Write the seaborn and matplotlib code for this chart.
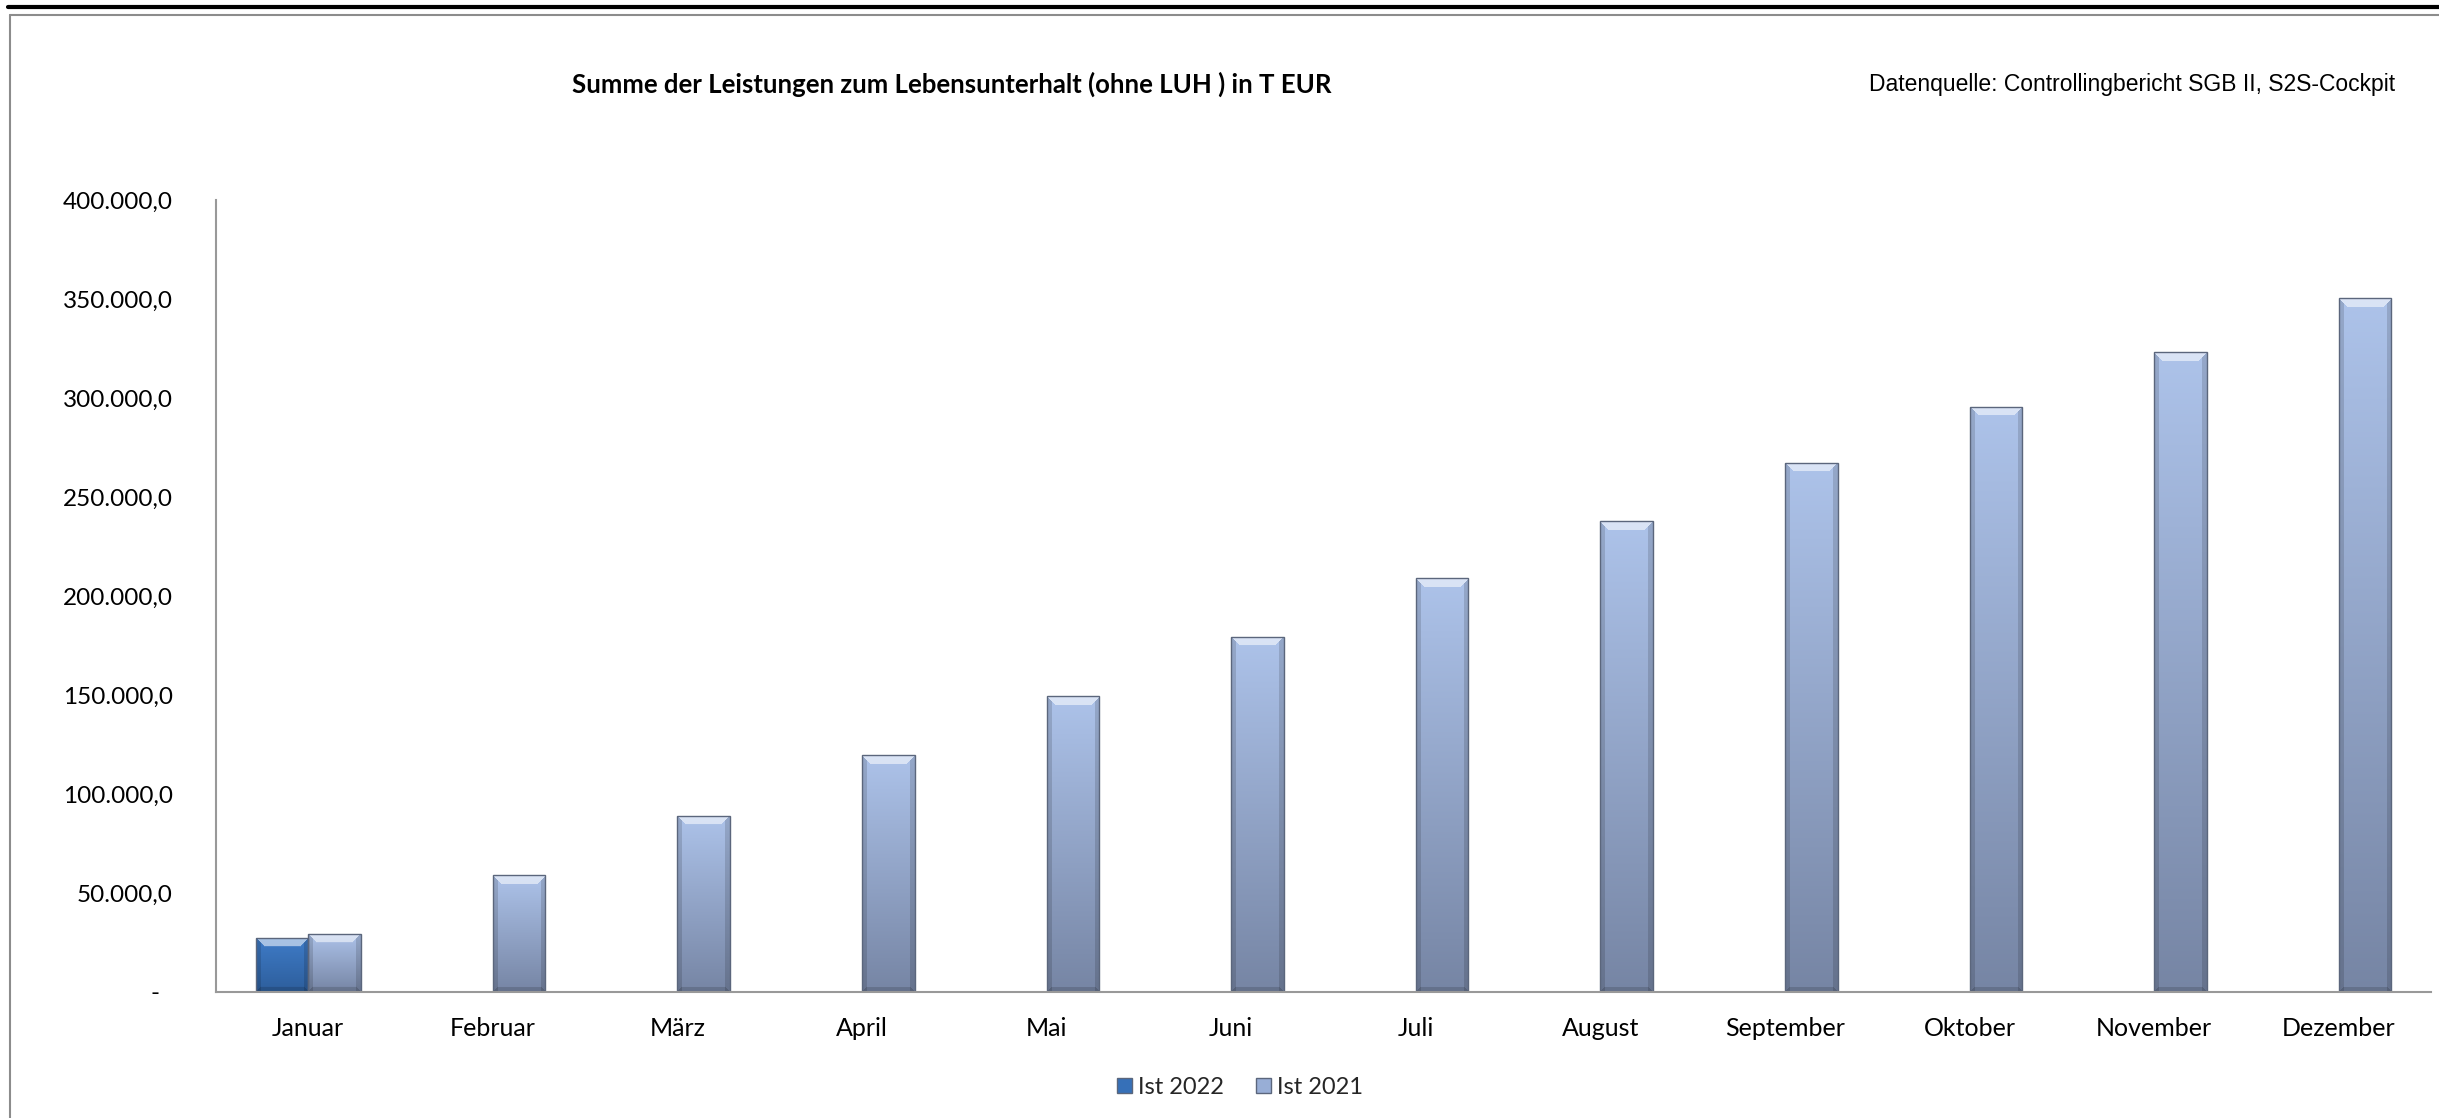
import numpy as np
import pandas as pd
import matplotlib
matplotlib.use("Agg")
import matplotlib.pyplot as plt
import seaborn as sns
from matplotlib.lines import Line2D
from matplotlib.colors import to_rgb, to_hex

# ---------------- data ----------------
months = ["Januar", "Februar", "März", "April", "Mai", "Juni", "Juli",
          "August", "September", "Oktober", "November", "Dezember"]
ist_2022 = [27300, np.nan, np.nan, np.nan, np.nan, np.nan, np.nan,
            np.nan, np.nan, np.nan, np.nan, np.nan]
ist_2021 = [29400, 58900, 88900, 119500, 149300, 179300, 209000,
            237800, 267300, 295600, 323000, 350500]
series_names = ["Ist 2022", "Ist 2021"]
y_ticks = [0, 50000, 100000, 150000, 200000, 250000, 300000, 350000, 400000]
y_tick_labels = ["-  ", "50.000,0", "100.000,0", "150.000,0", "200.000,0",
                 "250.000,0", "300.000,0", "350.000,0", "400.000,0"]
title = "Summe der Leistungen zum Lebensunterhalt (ohne LUH ) in T EUR"
source = "Datenquelle: Controllingbericht SGB II, S2S-Cockpit"

df = pd.DataFrame({
    "Monat": months * 2,
    "Reihe": [series_names[0]] * 12 + [series_names[1]] * 12,
    "Wert": list(ist_2022) + list(ist_2021),
})

# ---------------- style ----------------
sns.set_theme(style="white")
plt.rcParams["font.family"] = ["Lato", "DejaVu Sans"]

W, H, DPI = 2439, 1118, 100
fig = plt.figure(figsize=(W / DPI, H / DPI), dpi=DPI)
ax = fig.add_axes([216 / W, 1 - 992 / H, (2431 - 216) / W, (992 - 200) / H])

palette = {"Ist 2022": "#3670B8", "Ist 2021": "#98AED6"}
sns.barplot(data=df, x="Monat", y="Wert", hue="Reihe", hue_order=series_names,
            order=months, palette=palette, width=0.57, ax=ax,
            edgecolor="#5b667c", linewidth=1.0, legend=True, errorbar=None,
            saturation=1)

ax.set_xlim(-0.5, len(months) - 0.5)
ax.set_ylim(y_ticks[0], y_ticks[-1])

# gradient fill (with bevel look) clipped to each bar
grad_cols = {
    "#3670B8": (to_rgb("#3F7CC8"), to_rgb("#2D5E9C")),
    "#98AED6": (to_rgb("#ADC3EA"), to_rgb("#7685A4")),
}
bars = [p for p in ax.patches if np.isfinite(p.get_height()) and p.get_height() > 0]
for p in bars:
    fc = to_hex(p.get_facecolor()[:3]).upper()
    key = "#3670B8" if fc == "#3670B8" else "#98AED6"
    top, bot = grad_cols[key]
    x0, y0 = p.get_x(), p.get_y()
    x1, y1 = x0 + p.get_width(), y0 + p.get_height()
    (px0, py0), (px1, py1) = ax.transData.transform([(x0, y0), (x1, y1)])
    hp = max(int(round(py1 - py0)), 2)
    wp = max(int(round(px1 - px0)), 2)
    yy = np.arange(hp)[:, None] + 0.5          # from top, pixels
    xx = np.arange(wp)[None, :] + 0.5          # from left, pixels
    t = yy / hp
    base = np.zeros((hp, wp, 3))
    for c in range(3):
        base[:, :, c] = top[c] * (1 - t) + bot[c] * t + 0 * xx
    bev = 9.0
    dleft, dright = xx, wp - xx
    dtop, dbot = yy, hp - yy
    dside = np.minimum(dleft, dright)
    # top bevel: lighter where closer to top than to sides
    top_mask = (dtop < bev) & (dtop <= dside)
    side_mask = (dside < bev * 0.6) & ~top_mask
    bot_mask = (dbot < bev * 0.6) & (dbot <= dside) & ~top_mask
    img = base.copy()
    img[top_mask] = img[top_mask] * 0.45 + 0.55
    img[side_mask] = img[side_mask] * 0.86
    img[bot_mask] = img[bot_mask] * 0.85
    im = ax.imshow(img, extent=[x0, x1, y0, y1], aspect="auto",
                   origin="upper", zorder=p.get_zorder() + 0.1,
                   interpolation="bilinear")
    im.set_clip_path(p)
    p.set_facecolor("none")
    p.set_zorder(p.get_zorder() + 0.2)

# axes formatting
ax.set_xlim(-0.5, len(months) - 0.5)
ax.set_ylim(y_ticks[0], y_ticks[-1])
ax.set_yticks(y_ticks)
ax.set_yticklabels(y_tick_labels)
ax.set_xlabel("")
ax.set_ylabel("")
ax.set_xticks(range(len(months)))
ax.set_xticklabels(months)
ax.set_xticks(np.arange(-0.5, len(months), 1.0), minor=True)
ax.tick_params(axis="x", which="major", length=0, pad=18, labelsize=18, colors="black")
ax.tick_params(axis="x", which="minor", length=8, width=1.5, color="#999999", direction="out")
ax.tick_params(axis="y", which="major", length=8, width=1.5, color="#999999",
               direction="out", pad=23, labelsize=17.5, labelcolor="black")
for s in ["top", "right"]:
    ax.spines[s].set_visible(False)
for s in ["left", "bottom"]:
    ax.spines[s].set_color("#999999")
    ax.spines[s].set_linewidth(1.5)
ax.grid(False)

# legend
handles, labels = ax.get_legend_handles_labels()
ax.get_legend().remove()
for h in handles:
    h.set_edgecolor("#5b667c")
fig.legend(handles, labels, loc="center", bbox_to_anchor=(1240 / W, 1 - 1087 / H),
           ncol=2, frameon=False, fontsize=17, handlelength=0.6, handleheight=0.6,
           handletextpad=0.25, columnspacing=1.4)

# titles
fig.text(952 / W, 1 - 84 / H, title, ha="center", va="center",
         fontsize=18.5, fontweight="bold", color="black")
fig.text(2395 / W, 1 - 84 / H, source, ha="right", va="center",
         fontsize=16.5, color="black", family=["Liberation Sans", "DejaVu Sans"])

# frame lines
fig.add_artist(Line2D([8 / W, 1], [1 - 7 / H, 1 - 7 / H], transform=fig.transFigure,
                      color="black", linewidth=3.0))
fig.add_artist(Line2D([10 / W, 1], [1 - 15 / H, 1 - 15 / H], transform=fig.transFigure,
                      color="#8c8c8c", linewidth=1.5))
fig.add_artist(Line2D([10 / W, 10 / W], [1 - 15 / H, 0], transform=fig.transFigure,
                      color="#8c8c8c", linewidth=1.5))

fig.savefig("out.png", dpi=DPI)
